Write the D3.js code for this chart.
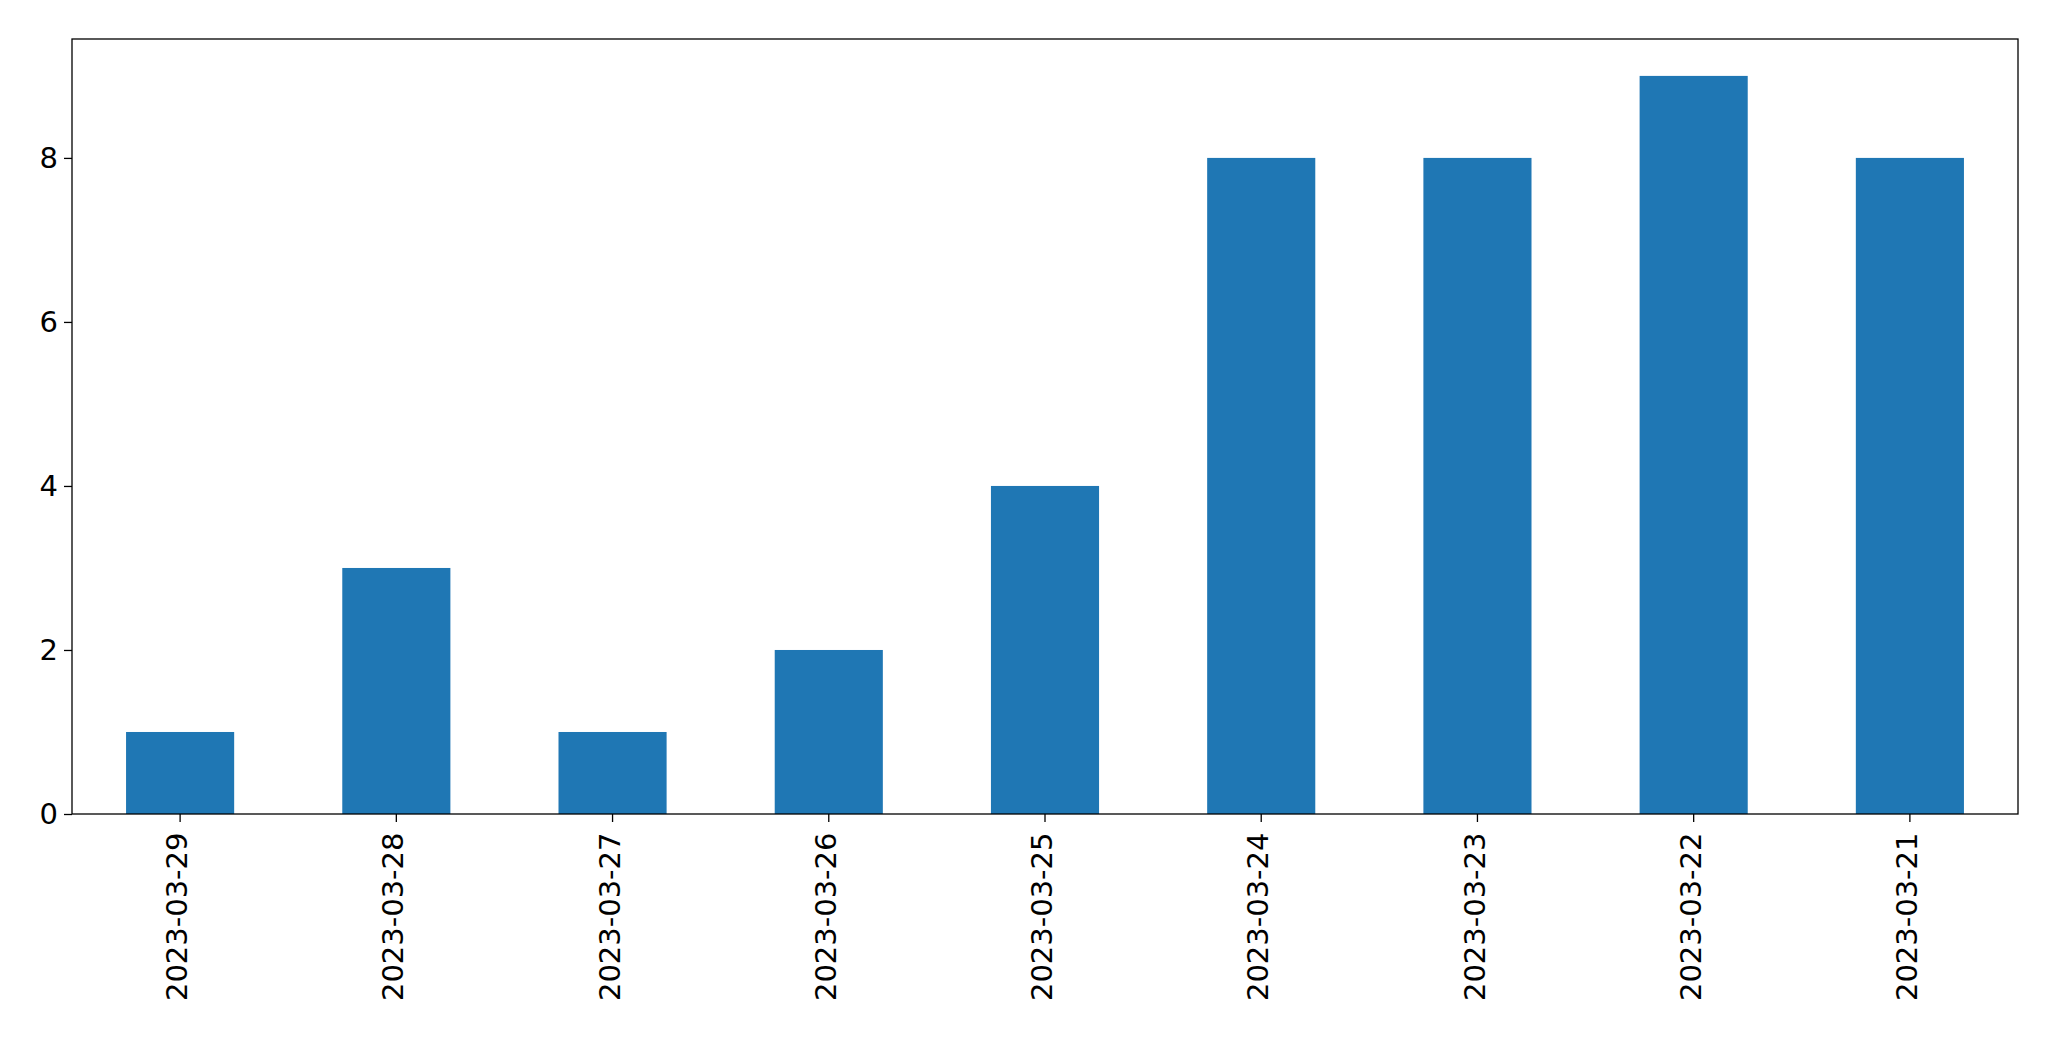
<!DOCTYPE html><html><head><script src="https://cdn.jsdelivr.net/npm/d3@7"></script>
<style>body{margin:0;background:#fff}</style></head><body><svg id="c" width="2049" height="1061"></svg><script>
const categories=["2023-03-29","2023-03-28","2023-03-27","2023-03-26","2023-03-25","2023-03-24","2023-03-23","2023-03-22","2023-03-21"];
const values=[1,3,1,2,4,8,8,9,8];
const yTicks=[0,2,4,6,8];
const m={l:72,r:2049-2018,t:39,b:1061-814};
const W=2049-m.l-m.r,H=1061-m.t-m.b;
const svg=d3.select("#c"),g=svg.append("g").attr("transform",`translate(${m.l},${m.t})`);
const x=d3.scaleBand().domain(categories).range([0,W]).paddingInner(0.5).paddingOuter(0.25);
const y=d3.scaleLinear().domain([0,9.45]).range([H,0]);
g.selectAll("rect.b").data(values).join("rect").attr("x",(d,i)=>x(categories[i])).attr("width",x.bandwidth())
 .attr("y",d=>y(d)).attr("height",d=>H-y(d)).attr("fill","#1f77b4");
const ya=g.append("g").call(d3.axisLeft(y).tickValues(yTicks).tickSize(8).tickPadding(6));
const xa=g.append("g").attr("transform",`translate(0,${H})`).call(d3.axisBottom(x).tickSize(8).tickPadding(6));
[ya,xa].forEach(a=>{a.select(".domain").remove();a.selectAll("text").attr("font-family","DejaVu Sans").attr("font-size",29).attr("fill","#000");a.selectAll("line").attr("stroke","#000").attr("stroke-width",1.3);});
xa.selectAll("text").attr("transform","rotate(-90)").attr("text-anchor","end").attr("dx","-0.5em").attr("dy","-0.1em").attr("x",-4).attr("y",0).style("dominant-baseline","central");
g.append("rect").attr("width",W).attr("height",H).attr("fill","none").attr("stroke","#000").attr("stroke-width",1.3);
</script></body></html>
